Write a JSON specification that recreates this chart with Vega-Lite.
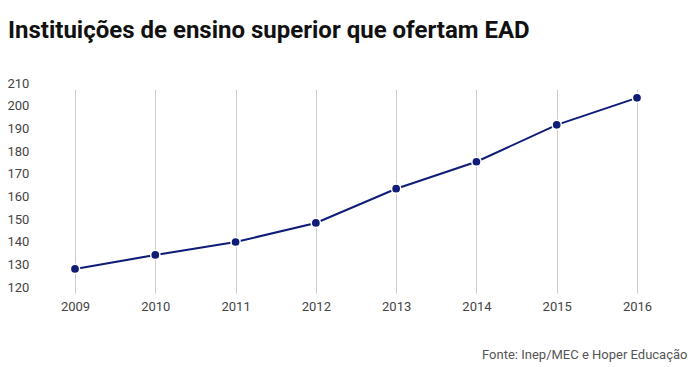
{
  "$schema": "https://vega.github.io/schema/vega-lite/v6.json",
  "width": 562,
  "height": 204,
  "autosize": {"type": "none"},
  "padding": {"left": 75, "top": 89, "right": 60, "bottom": 74},
  "background": "white",
  "title": {
    "text": "Instituições de ensino superior que ofertam EAD",
    "anchor": "start",
    "frame": "group",
    "dx": -67,
    "offset": 34,
    "font": "Roboto",
    "fontSize": 24,
    "fontWeight": "bold",
    "color": "#111111"
  },
  "config": {"view": {"stroke": null}, "font": "Roboto"},
  "data": {
    "values": [
      {"ano": 2009, "ies": 130.6},
      {"ano": 2010, "ies": 136.8},
      {"ano": 2011, "ies": 142.5},
      {"ano": 2012, "ies": 150.9},
      {"ano": 2013, "ies": 166},
      {"ano": 2014, "ies": 177.9},
      {"ano": 2015, "ies": 194.2},
      {"ano": 2016, "ies": 206.1}
    ]
  },
  "encoding": {
    "x": {
      "field": "ano",
      "type": "quantitative",
      "scale": {"domain": [2009, 2016], "nice": false, "zero": false},
      "axis": {
        "values": [2009, 2010, 2011, 2012, 2013, 2014, 2015, 2016],
        "format": "d",
        "grid": true,
        "gridColor": "#cccccc",
        "gridWidth": 1,
        "domain": false,
        "ticks": false,
        "tickSize": 0,
        "labelPadding": 7,
        "labelFont": "Roboto",
        "labelFontSize": 13,
        "labelColor": "#444444",
        "labelFlush": false,
        "title": "Fonte: Inep/MEC e Hoper Educação",
        "titleFont": "Roboto",
        "titleFontSize": 13,
        "titleFontWeight": "normal",
        "titleColor": "#555555",
        "titleAnchor": "end",
        "titleAlign": "right",
        "titleBaseline": "middle",
        "titleX": 612,
        "titleY": 61
      }
    },
    "y": {
      "field": "ies",
      "type": "quantitative",
      "scale": {"domain": [120, 210], "nice": false, "zero": false},
      "axis": {
        "values": [120, 130, 140, 150, 160, 170, 180, 190, 200, 210],
        "grid": false,
        "domain": false,
        "ticks": false,
        "tickSize": 0,
        "labelAlign": "left",
        "labelPadding": 68,
        "labelOffset": -6,
        "labelFont": "Roboto",
        "labelFontSize": 13,
        "labelColor": "#444444",
        "title": null
      }
    }
  },
  "layer": [
    {"mark": {"type": "line", "color": "#0f1c78", "strokeWidth": 2}},
    {"mark": {"type": "point", "filled": true, "color": "#0f1c78", "size": 85, "stroke": "white", "strokeWidth": 1.5, "opacity": 1}}
  ]
}
